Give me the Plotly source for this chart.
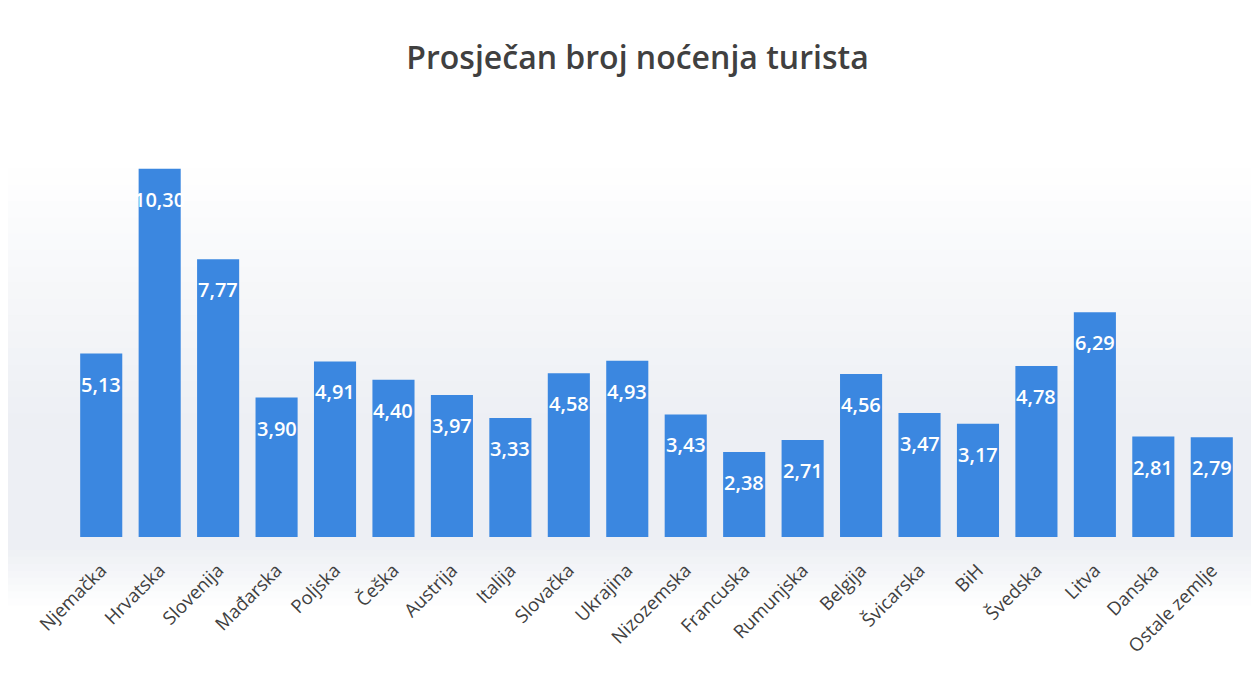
import plotly.graph_objects as go

countries = ["Njemačka", "Hrvatska", "Slovenija", "Mađarska", "Poljska", "Češka",
             "Austrija", "Italija", "Slovačka", "Ukrajina", "Nizozemska", "Francuska",
             "Rumunjska", "Belgija", "Švicarska", "BiH", "Švedska", "Litva", "Danska",
             "Ostale zemlje"]
values = [5.13, 10.30, 7.77, 3.90, 4.91, 4.40, 3.97, 3.33, 4.58, 4.93, 3.43, 2.38,
          2.71, 4.56, 3.47, 3.17, 4.78, 6.29, 2.81, 2.79]
labels = [f"{v:.2f}".replace(".", ",") for v in values]

BAR = "#3b87e0"
FONT = "Open Sans"

fig = go.Figure()
fig.add_trace(go.Bar(
    x=countries, y=values, marker=dict(color=BAR, line=dict(width=0)),
    hoverinfo="x+y", showlegend=False,
))

annotations = [
    dict(x=c, y=v, text=t, showarrow=False, yanchor="top", yshift=-15,
         font=dict(family=FONT, size=20, color="white", weight=600), xref="x", yref="y")
    for c, v, t in zip(countries, values, labels)
]

# soft background gradient (styling only): thin bands in paper units
shapes = []
n_up = 16
top, mid = 0.86, 0.25
for i in range(n_up):
    y1 = top - (top - mid) * i / n_up
    y0 = top - (top - mid) * (i + 1) / n_up
    shapes.append(dict(type="rect", xref="paper", yref="paper", x0=-0.06, x1=1.01,
                       y0=y0, y1=y1, fillcolor="#a4b0c8",
                       opacity=0.20 * (i + 1) / n_up, line=dict(width=0), layer="below"))
shapes.append(dict(type="rect", xref="paper", yref="paper", x0=-0.06, x1=1.01,
                   y0=-0.03, y1=mid, fillcolor="#a4b0c8", opacity=0.20,
                   line=dict(width=0), layer="below"))
n_dn = 8
for i in range(n_dn):
    y1 = -0.03 - 0.13 * i / n_dn
    y0 = -0.03 - 0.13 * (i + 1) / n_dn
    shapes.append(dict(type="rect", xref="paper", yref="paper", x0=-0.06, x1=1.01,
                       y0=y0, y1=y1, fillcolor="#a4b0c8",
                       opacity=0.20 * (n_dn - i) / (n_dn + 1), line=dict(width=0),
                       layer="below"))

fig.update_layout(
    width=1259, height=678,
    margin=dict(l=64, r=26, t=100, b=149),
    paper_bgcolor="white", plot_bgcolor="rgba(0,0,0,0)",
    title=dict(text="Prosječan broj noćenja turista", x=0.5, xanchor="center",
               y=0.927, yanchor="middle",
               font=dict(family=FONT, size=32, color="#404040", weight=600)),
    bargap=0.28,
    xaxis=dict(tickangle=-45, tickfont=dict(family=FONT, size=18.5, color="#404040"),
               showgrid=False, showline=False, ticks="", zeroline=False,
               ticklabelstandoff=18),
    yaxis=dict(range=[0, 12], visible=False, showgrid=False, zeroline=False),
    annotations=annotations,
    shapes=shapes,
)

fig.write_html("out.html")
